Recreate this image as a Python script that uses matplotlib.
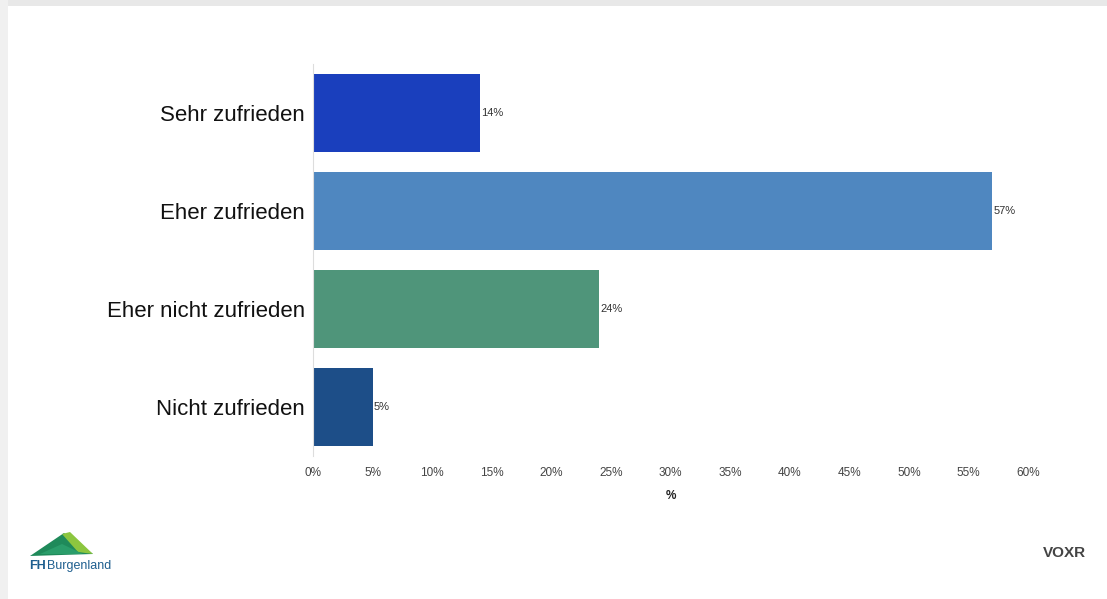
import matplotlib
matplotlib.use("Agg")
import matplotlib.pyplot as plt
from matplotlib.patches import Polygon, Rectangle

plt.rcParams['font.family'] = ['Liberation Sans', 'DejaVu Sans']

categories = ["Sehr zufrieden", "Eher zufrieden", "Eher nicht zufrieden", "Nicht zufrieden"]
values = [14, 57, 24, 5]
bar_colors = ["#1a3fbd", "#4f87c0", "#4f957a", "#1d4e88"]
tick_values = list(range(0, 61, 5))
tick_labels = [f"{v}%" for v in tick_values]

fig = plt.figure(figsize=(11.07, 5.99), dpi=100)
fig.patch.set_facecolor("white")

# soft page frame along the top and left edges
fig.patches.append(Rectangle((0, 1 - 6 / 599), 1, 6 / 599, transform=fig.transFigure,
                             facecolor="#e8e8e8", edgecolor="none", zorder=0))
fig.patches.append(Rectangle((0, 0), 8 / 1107, 1, transform=fig.transFigure,
                             facecolor="#f0f0f0", edgecolor="none", zorder=0))

ax = fig.add_axes([313 / 1107, 1 - 456 / 599, 715 / 1107, 392 / 599])
ypos = list(range(len(categories)))
ax.barh(ypos, values, height=0.8, color=bar_colors, edgecolor="none")
ax.set_ylim(len(categories) - 0.5, -0.5)
ax.set_xlim(0, 60)

for y, v in zip(ypos, values):
    ax.text(v + 0.1, y, f"{v}%", va="center", ha="left", fontsize=8, color="#333333")

ax.set_yticks(ypos)
ax.set_yticklabels(categories, fontsize=16, color="#111111", va="center_baseline")
ax.set_xticks(tick_values)
ax.set_xticklabels(tick_labels, fontsize=8.5, color="#444444")
ax.tick_params(axis="both", length=0)
ax.tick_params(axis="x", pad=8)
ax.tick_params(axis="y", pad=6)
ax.set_xlabel("%", fontsize=8.5, fontweight="bold", color="#222222", labelpad=8)

for side in ["top", "right", "bottom"]:
    ax.spines[side].set_visible(False)
ax.spines["left"].set_color("#dddddd")
ax.spines["left"].set_linewidth(0.8)

# FH Burgenland logo
logo = fig.add_axes([28 / 1107, 1 - 578 / 599, 95 / 1107, 50 / 599])
logo.set_xlim(0, 95)
logo.set_ylim(0, 50)
logo.axis("off")
logo.add_patch(Polygon([[2, 22], [36, 45], [65, 24]], closed=True, facecolor="#1f8a5a", edgecolor="none"))
logo.add_patch(Polygon([[34, 44], [42, 46], [65, 24], [50, 26]], closed=True, facecolor="#8cc63f", edgecolor="none"))
logo.add_patch(Polygon([[12, 24], [34, 34], [55, 24]], closed=True, facecolor="#2a9d6a", edgecolor="none"))
logo.text(1, 12, "FH", fontsize=9, fontweight="bold", color="#1f5f8f", va="center", ha="left")
logo.text(18.5, 12, "Burgenland", fontsize=9, color="#1f5f8f", va="center", ha="left")

# VOXR mark
fig.text(1043 / 1107, 1 - 553 / 599, "VOXR", fontsize=11, fontweight="bold", color="#444444", va="center", ha="left")

fig.savefig("out.png", dpi=100, facecolor="white")
